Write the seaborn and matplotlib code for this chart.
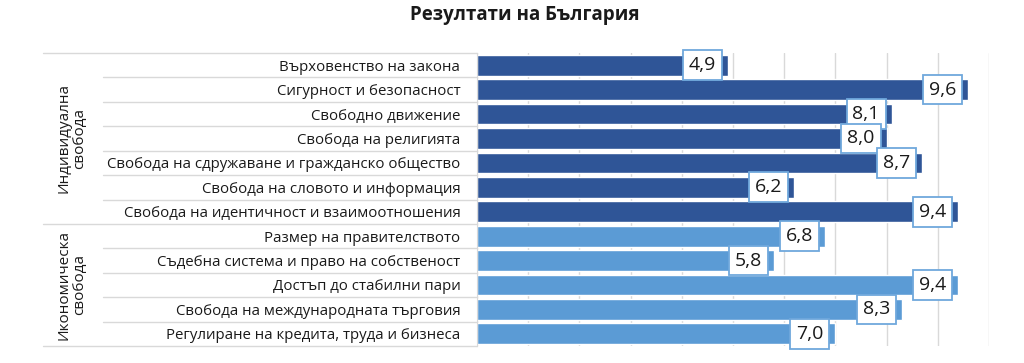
import numpy as np
import pandas as pd
import seaborn as sns
import matplotlib.pyplot as plt
from matplotlib.lines import Line2D

# data
categories = [
    'Върховенство на закона',
    'Сигурност и безопасност',
    'Свободно движение',
    'Свобода на религията',
    'Свобода на сдружаване и гражданско общество',
    'Свобода на словото и информация',
    'Свобода на идентичност и взаимоотношения',
    'Размер на правителството',
    'Съдебна система и право на собственост',
    'Достъп до стабилни пари',
    'Свобода на международната търговия',
    'Регулиране на кредита, труда и бизнеса',
]
values = [4.9, 9.6, 8.1, 8.0, 8.7, 6.2, 9.4, 6.8, 5.8, 9.4, 8.3, 7.0]
groups = ['Индивидуална\nсвобода'] * 7 + ['Икономическа\nсвобода'] * 5
group_names = ['Индивидуална\nсвобода', 'Икономическа\nсвобода']
colors = ['#2F5597', '#5B9BD5']

df = pd.DataFrame({'category': categories, 'value': values, 'group': groups})

sns.set_style('white')
plt.rcParams['font.family'] = ['Open Sans', 'DejaVu Sans']

fig = plt.figure(figsize=(10.24, 3.63), dpi=100)
ax = fig.add_axes([0.4658, 0.0468, 0.5, 0.8072])

sns.barplot(data=df, x='value', y='category', hue='group', hue_order=group_names,
            palette=colors, dodge=False, width=0.85, legend=False, saturation=1, ax=ax)

ax.set_xlim(0, 10)
ax.set_ylim(len(categories) - 0.5, -0.5)
ax.set_xticks(np.arange(0, 11, 1))
ax.set_xticklabels([])
ax.grid(axis='x', color='#d9d9d9', linewidth=1)
ax.set_axisbelow(True)
for s in ['top', 'right', 'bottom']:
    ax.spines[s].set_visible(False)
ax.spines['left'].set_color('#d9d9d9')
ax.set_xlabel('')
ax.set_ylabel('')
ax.tick_params(axis='y', length=0, pad=12, labelsize=10.8, labelcolor='#1a1a1a')
ax.tick_params(axis='x', length=0)

# data labels
for i, v in enumerate(values):
    ax.text(v - 0.5, i, f'{v:.1f}'.replace('.', ','), ha='center', va='center',
            fontsize=14, color='#1a1a1a',
            bbox=dict(boxstyle='square,pad=0.3', fc='white', ec='#6fa8dc', lw=1.3))

# row separators in the label area
trans = ax.get_yaxis_transform()
n = len(categories)
x_inner = (103 - 477) / 512
x_outer = (43 - 477) / 512
for k in range(n + 1):
    y = k - 0.5
    x0 = x_outer if k in (0, 7, n) else x_inner
    ax.add_line(Line2D([x0, 0], [y, y], transform=trans, color='#d9d9d9',
                       lw=1, clip_on=False))

# group labels
ax.text(x_outer + 0.056, 3, group_names[0], transform=trans, rotation=90,
        ha='center', va='center', fontsize=11, color='#1a1a1a', linespacing=1.1)
ax.text(x_outer + 0.056, 9, group_names[1], transform=trans, rotation=90,
        ha='center', va='center', fontsize=11, color='#1a1a1a', linespacing=1.1)

fig.suptitle('Резултати на България', x=0.512, y=0.985, fontsize=13.5,
             fontweight='bold', color='#1a1a1a')

fig.savefig('out.png', dpi=100)
